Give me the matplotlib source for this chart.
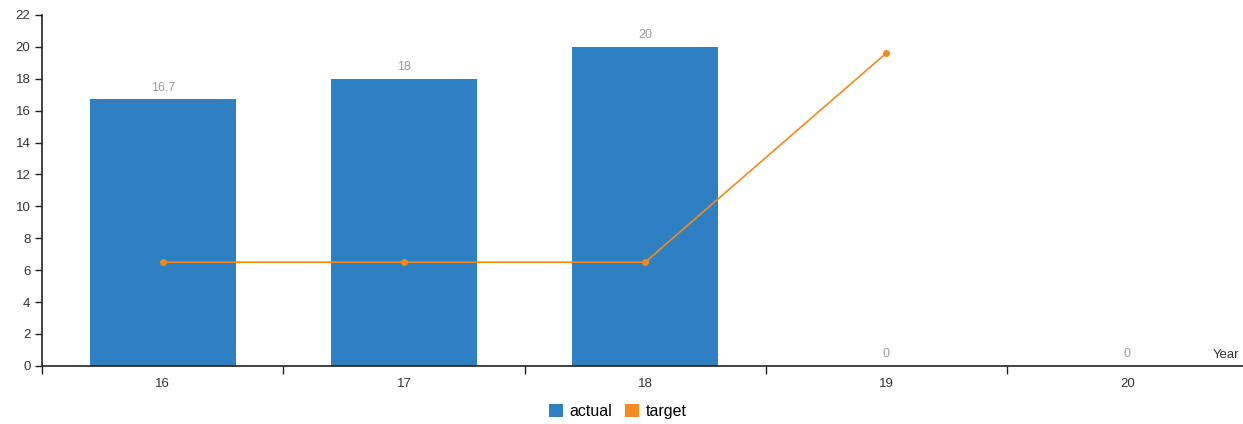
import matplotlib.pyplot as plt
import numpy as np
from matplotlib.patches import Patch

plt.rcParams["font.family"] = ["Liberation Sans", "DejaVu Sans"]

# ---------------------------------------------------------------------------
# Data
# ---------------------------------------------------------------------------
years = ["16", "17", "18", "19", "20"]
actual = [16.7, 18, 20, 0, 0]
actual_labels = ["16.7", "18", "20", "0", "0"]
target_years = ["16", "17", "18", "19"]
target = [6.5, 6.5, 6.5, 19.6]

BLUE = "#2f80c2"
ORANGE = "#f28a1e"
GREY = "#9a9a9a"
AXIS = "#222222"

fig = plt.figure(figsize=(12.43, 4.24), dpi=100)
ax = fig.add_axes([0.034, 0.137, 0.970, 0.828])

x = np.arange(len(years))
ax.bar(x, actual, width=0.605, color=BLUE, zorder=2)
for xi, v, lab in zip(x, actual, actual_labels):
    ax.text(xi, v + 0.35, lab, ha="center", va="bottom",
            fontsize=9, color=GREY, zorder=4)

tx = np.array([years.index(y) for y in target_years])
ax.plot(tx, target, color=ORANGE, linewidth=1.2, marker="o",
        markersize=4, zorder=3)

# --- axes styling ---
ax.set_xlim(-0.5, len(years) - 0.5)
ax.set_ylim(0, 22)
ax.set_yticks(np.arange(0, 23, 2))
ax.set_xticks(x)
ax.set_xticklabels(years)
ax.set_xticks(np.arange(-0.5, len(years), 1.0), minor=True)
ax.tick_params(axis="x", which="major", length=0, pad=9,
               labelsize=9.5, labelcolor="#333333")
ax.tick_params(axis="x", which="minor", length=6, width=1, color=AXIS)
ax.tick_params(axis="y", length=5, width=1, color=AXIS,
               labelsize=9.5, labelcolor="#333333")

for side in ("top", "right"):
    ax.spines[side].set_visible(False)
for side in ("left", "bottom"):
    ax.spines[side].set_color(AXIS)
    ax.spines[side].set_linewidth(1.2)

# axis title sits just above the right end of the x axis
fig.text(0.997, 0.148, "Year", ha="right", va="bottom",
         fontsize=9.5, color="#333333")

# --- legend ---
handles = [Patch(facecolor=BLUE, label="actual"),
           Patch(facecolor=ORANGE, label="target")]
fig.legend(handles=handles, loc="center", bbox_to_anchor=(0.497, 0.03),
           ncol=2, frameon=False, fontsize=11.5, handlelength=0.9,
           handleheight=0.9, handletextpad=0.4, columnspacing=0.8)

fig.savefig("out.png", dpi=100, facecolor="white")
